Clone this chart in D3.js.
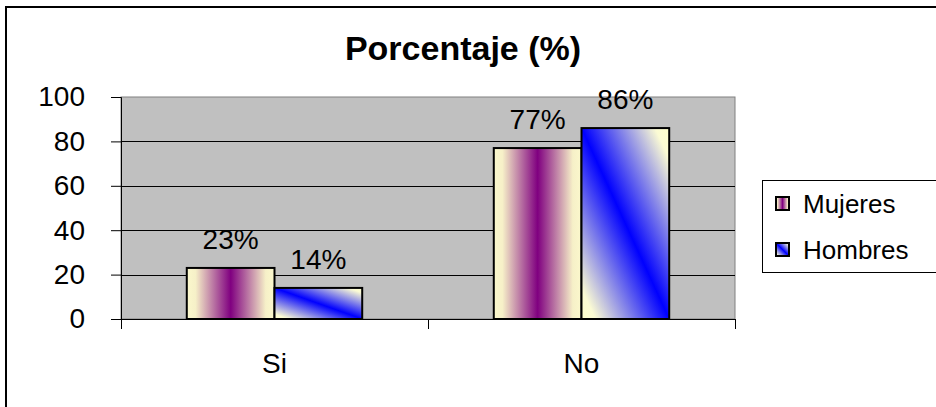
<!DOCTYPE html>
<html lang="en">

<head>
    <meta charset="UTF-8">
    <title>Porcentaje (%)</title>
    <script src="https://d3js.org/d3.v7.min.js"></script>
    <style>
        body {
            margin: 0;
            background: #fff;
        }

        text {
            font-family: "Liberation Sans", Arial, sans-serif;
            fill: #000;
        }
    </style>
</head>

<body>

    <svg id="chart" width="936" height="407"></svg>

    <script>
        // data
        const categories = ["Si", "No"];
        const seriesNames = ["Mujeres", "Hombres"];
        const mujeres = [23, 77];
        const hombres = [14, 86];
        const yTicks = [0, 20, 40, 60, 80, 100];

        const svg = d3.select("#chart");
        const defs = svg.append("defs");

        // gradient fills like the old excel ones
        const gM = defs.append("linearGradient").attr("id", "gradMujeres")
            .attr("x1", 0).attr("y1", 0).attr("x2", 1).attr("y2", 0);
        gM.append("stop").attr("offset", "0%").attr("stop-color", "#fbf8cc");
        gM.append("stop").attr("offset", "10%").attr("stop-color", "#f6f0c8");
        gM.append("stop").attr("offset", "50%").attr("stop-color", "#800080");
        gM.append("stop").attr("offset", "90%").attr("stop-color", "#f6f0c8");
        gM.append("stop").attr("offset", "100%").attr("stop-color", "#fbf8cc");

        const gH = defs.append("linearGradient").attr("id", "gradHombres")
            .attr("x1", 0).attr("y1", 1).attr("x2", 1).attr("y2", 0);
        gH.append("stop").attr("offset", "0%").attr("stop-color", "#ffffcc");
        gH.append("stop").attr("offset", "8%").attr("stop-color", "#fbfbd4");
        gH.append("stop").attr("offset", "50%").attr("stop-color", "#0000ff");
        gH.append("stop").attr("offset", "92%").attr("stop-color", "#fbfbd4");
        gH.append("stop").attr("offset", "100%").attr("stop-color", "#ffffcc");

        const fills = { "Mujeres": "url(#gradMujeres)", "Hombres": "url(#gradHombres)" };

        // outer chart border (right and bottom run off the picture)
        svg.append("rect")
            .attr("x", 6).attr("y", 7)
            .attr("width", 960).attr("height", 440)
            .attr("fill", "none")
            .attr("stroke", "#000")
            .attr("stroke-width", 2);

        // title
        svg.append("text")
            .attr("x", 463)
            .attr("y", 60)
            .attr("text-anchor", "middle")
            .style("font-size", "34px")
            .style("font-weight", "bold")
            .text("Porcentaje (%)");

        const plot = { left: 121, right: 735, top: 97, bottom: 319 };

        const y = d3.scaleLinear()
            .domain([0, 100])
            .range([plot.bottom, plot.top]);

        const x0 = d3.scaleBand()
            .domain(categories)
            .range([plot.left, plot.right])
            .paddingInner(0)
            .paddingOuter(0);

        const x1 = d3.scaleBand()
            .domain(seriesNames)
            .range([0, x0.bandwidth()])
            .paddingInner(0)
            .paddingOuter(0.75);

        // plot area
        svg.append("rect")
            .attr("x", plot.left).attr("y", plot.top)
            .attr("width", plot.right - plot.left)
            .attr("height", plot.bottom - plot.top)
            .attr("fill", "#c0c0c0")
            .attr("stroke", "#808080")
            .attr("stroke-width", 1);

        // gridlines
        svg.append("g")
            .selectAll("line")
            .data(yTicks.filter(t => t > 0 && t < 100))
            .enter().append("line")
            .attr("x1", plot.left).attr("x2", plot.right)
            .attr("y1", d => Math.round(y(d)) + 0.5)
            .attr("y2", d => Math.round(y(d)) + 0.5)
            .attr("stroke", "#000")
            .attr("stroke-width", 1);

        // y axis
        const yAxis = svg.append("g")
            .attr("transform", `translate(${plot.left},0)`)
            .call(d3.axisLeft(y).tickValues(yTicks).tickSize(10).tickPadding(26));
        yAxis.select(".domain").attr("stroke", "#000");
        yAxis.selectAll("text")
            .style("font-size", "28px")
            .style("font-family", "'Liberation Sans', Arial, sans-serif");

        // x axis: boundary ticks, labels centred in categories
        const xAxis = svg.append("g")
            .attr("transform", `translate(0,${plot.bottom})`)
            .call(d3.axisBottom(x0).tickSize(0).tickPadding(34));
        xAxis.select(".domain").attr("d", `M${plot.left},0.5H${plot.right}`).attr("stroke", "#000");
        xAxis.selectAll("text")
            .style("font-size", "28px")
            .style("font-family", "'Liberation Sans', Arial, sans-serif");

        const bounds = categories.map(c => x0(c)).concat([plot.right]);
        xAxis.selectAll(".bound")
            .data(bounds)
            .enter().append("line")
            .attr("class", "bound")
            .attr("x1", d => d + 0.5).attr("x2", d => d + 0.5)
            .attr("y1", 0).attr("y2", 10)
            .attr("stroke", "#000");

        // bars
        const rows = [];
        categories.forEach((c, i) => {
            rows.push({ cat: c, name: "Mujeres", value: mujeres[i] });
            rows.push({ cat: c, name: "Hombres", value: hombres[i] });
        });

        svg.append("g")
            .selectAll("rect")
            .data(rows)
            .enter().append("rect")
            .attr("x", d => x0(d.cat) + x1(d.name))
            .attr("y", d => y(d.value))
            .attr("width", x1.bandwidth())
            .attr("height", d => y(0) - y(d.value))
            .attr("fill", d => fills[d.name])
            .attr("stroke", "#000")
            .attr("stroke-width", 2);

        // value labels
        svg.append("g")
            .selectAll("text")
            .data(rows)
            .enter().append("text")
            .attr("x", d => x0(d.cat) + x1(d.name) + x1.bandwidth() / 2)
            .attr("y", d => y(d.value) - 19)
            .attr("text-anchor", "middle")
            .style("font-size", "28px")
            .text(d => d.value + "%");

        // legend
        const legend = svg.append("g")
            .attr("transform", "translate(762,180)");

        legend.append("rect")
            .attr("x", 0.5).attr("y", 0.5)
            .attr("width", 200).attr("height", 92)
            .attr("fill", "#fff")
            .attr("stroke", "#000");

        seriesNames.forEach((name, i) => {
            legend.append("rect")
                .attr("x", 14)
                .attr("y", 17 + i * 46)
                .attr("width", 13)
                .attr("height", 13)
                .attr("fill", fills[name])
                .attr("stroke", "#000")
                .attr("stroke-width", 2);

            legend.append("text")
                .attr("x", 41)
                .attr("y", 33 + i * 46)
                .style("font-size", "26px")
                .text(name);
        });
    </script>

</body>

</html>
